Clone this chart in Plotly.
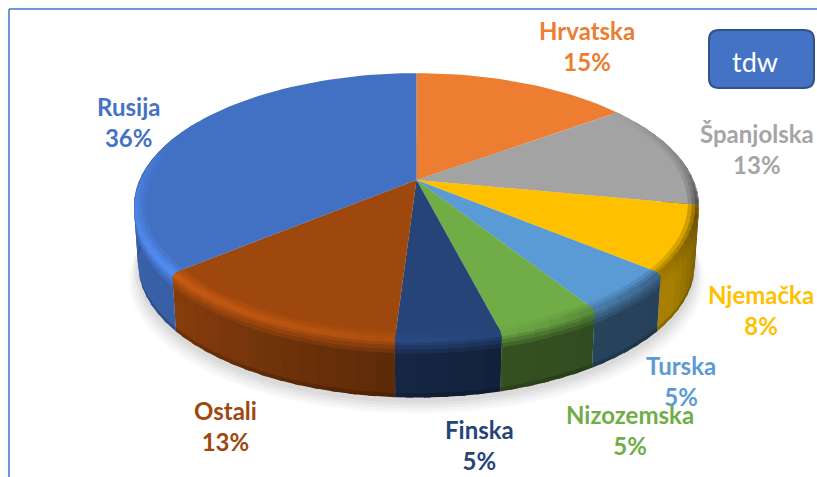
import numpy as np
import plotly.graph_objects as go

categories = ["Hrvatska", "Španjolska", "Njemačka", "Turska", "Nizozemska", "Finska", "Ostali", "Rusija"]
values = [15, 13, 8, 5, 5, 5, 13, 36]
colors = ["#ED7D31", "#A3A3A3", "#FFC000", "#5B9BD5", "#70AD47", "#264478", "#9E480E", "#4270C2"]
label_colors = ["#ED7D31", "#A5A5A5", "#FFC000", "#5B9BD5", "#70AD47", "#264478", "#9E480E", "#4472C4"]
label_x = [587, 757, 761, 681, 630, 479, 225, 128]
label_y = [46, 149, 310, 381, 430, 445, 426, 122]

# perspective disc model
CX, CY, AX, BY, K, DEPTH = 416.5, 180.0, 277.0, 128.0, 0.198, 58.0


def project(theta_deg, r=1.0, d=0.0):
    t = np.radians(theta_deg)
    u, v = r * np.sin(t), -r * np.cos(t)
    w = 1 - K * v
    s = 1 - 0.015 * d / DEPTH
    return CX + AX * u / w * s, CY + BY * v / w + d


def shade(hex_color, f):
    rgb = [int(hex_color[i:i + 2], 16) for i in (1, 3, 5)]
    return "rgb({},{},{})".format(*[int(round(min(255, max(0, c * f)))) for c in rgb])


def wall_factor(t):
    return np.interp(t, [60, 100, 125, 129.6, 130, 150, 165, 183, 230, 270, 300],
                     [.40, .42, .66, .66, .42, .44, .47, .58, .85, .88, .9])


def rim_factor(t):
    return np.interp(t, [54, 85, 105, 125, 150, 170, 190, 230, 270, 292],
                     [1.0, .8, .42, .6, .82, 1.02, 1.12, 1.25, 1.13, 1.0])


fig = go.Figure()


def poly(xs, ys, color, opacity=None):
    fig.add_trace(go.Scatter(
        x=list(xs), y=list(ys), mode="lines", fill="toself", fillcolor=color,
        line=dict(color=color, width=0), hoverinfo="skip",
        showlegend=False, opacity=opacity))


# soft shadow below the disc
ring = np.linspace(0, 360, 181)
for grow, drop, op in [(9, 16, .035), (7, 14, .045), (5, 11, .06), (3, 8, .07), (1, 5, .08)]:
    x, y = project(ring, 1.0, DEPTH)
    poly(CX + (x - CX) * (1 + grow / 280), y + drop, "rgb(120,120,120)", op)

shares = np.array(values, dtype=float) / sum(values) * 360
ends = np.cumsum(shares)
starts = ends - shares


def strip(t0, t1, r0, d0, r1, d1, color):
    x0a, y0a = project(t0, r0, d0)
    x0b, y0b = project(t1, r0, d0)
    x1b, y1b = project(t1, r1, d1)
    x1a, y1a = project(t0, r1, d1)
    poly([x0a, x0b, x1b, x1a, x0a], [y0a, y0b, y1b, y1a, y0a], color)


def cells(lo, hi, step=3.5, overlap=1.2):
    grid = np.linspace(lo, hi, int(np.ceil((hi - lo) / step)) + 1)
    return [(a, min(b + overlap, hi)) for a, b in zip(grid[:-1], grid[1:])]


# side wall
for s, e, c in zip(starts, ends, colors):
    lo, hi = max(s, 60), min(e, 300)
    if hi <= lo:
        continue
    for a, b in cells(lo, hi):
        m = np.clip((a + b) / 2, s + .01, e - .01)
        strip(a, b, 1, 0, 1, 55, shade(c, wall_factor(m)))
    for a, b in cells(lo, hi):
        m = np.clip((a + b) / 2, s + .01, e - .01)
        strip(a, b, 1, 54, 1, DEPTH, shade(c, wall_factor(m) * .82))

# top face
for s, e, c in zip(starts, ends, colors):
    arc = np.linspace(s, e, int(np.ceil((e - s) / 2)) + 1)
    x, y = project(arc)
    poly(np.r_[CX, x, CX], np.r_[CY, y, CY], c)

# bevelled edge, painted outward-in so that each band hides the seam below it
for s, e, c in zip(starts, ends, colors):
    # the parts that drop down the wall only show on the front of the disc
    lo, hi = max(s, 98), min(e, 272)
    if hi > lo:
        for d0, d1, mix in [(9, 14, .25), (5, 10, .5), (2, 6, .75)]:
            for a, b in cells(lo, hi):
                m = (a + b) / 2
                w = wall_factor(np.clip(m, s + .01, e - .01))
                strip(a, b, 1.0, d0, 1.0, d1, shade(c, mix * rim_factor(m) + (1 - mix) * w))
    # the parts that stay on the top face run further round the edge
    lo, hi = max(s, 54), min(e, 292)
    if hi > lo:
        for a, b in cells(lo, hi):
            m = (a + b) / 2
            drop = 3 * np.clip((m - 85) / 15, 0, 1) * np.clip((285 - m) / 15, 0, 1)
            strip(a, b, .985, 0, 1.0, drop, shade(c, rim_factor(m)))
        for a, b in cells(lo, hi):
            strip(a, b, .974, 0, .987, 0, shade(c, (1 + 2 * rim_factor((a + b) / 2)) / 3))
        for a, b in cells(lo, hi):
            strip(a, b, .962, 0, .975, 0, shade(c, (2 + rim_factor((a + b) / 2)) / 3))

annotations = [
    dict(x=x, y=y, xref="x", yref="y", showarrow=False, align="center",
         text=f"<b>{n}<br>{round(v / sum(values) * 100)}%</b>",
         font=dict(family="Lato", size=24, color=c))
    for n, v, x, y, c in zip(categories, values, label_x, label_y, label_colors)
]
annotations.append(dict(x=755, y=61, xref="x", yref="y", showarrow=False, text="tdw",
                        font=dict(family="Lato", size=27, color="white")))

bx0, bx1, by0, by1, rad = 709, 814, 30, 88, 10
box = (f"M{bx0 + rad},{by0} L{bx1 - rad},{by0} Q{bx1},{by0} {bx1},{by0 + rad} "
       f"L{bx1},{by1 - rad} Q{bx1},{by1} {bx1 - rad},{by1} L{bx0 + rad},{by1} "
       f"Q{bx0},{by1} {bx0},{by1 - rad} L{bx0},{by0 + rad} Q{bx0},{by0} {bx0 + rad},{by0} Z")
shapes = [
    dict(type="path", path=box, xref="x", yref="y", fillcolor="#4472C4",
         line=dict(color="#2F528F", width=2)),
    dict(type="line", xref="x", yref="y", x0=9, x1=817, y0=9, y1=9, line=dict(color="#4472C4", width=1.5)),
    dict(type="line", xref="x", yref="y", x0=9, x1=9, y0=9, y1=477, line=dict(color="#4472C4", width=1.5)),
]

fig.update_layout(
    width=817, height=477, margin=dict(l=0, r=0, t=0, b=0),
    paper_bgcolor="white", plot_bgcolor="white", showlegend=False,
    xaxis=dict(range=[0, 817], visible=False, fixedrange=True),
    yaxis=dict(range=[477, 0], visible=False, fixedrange=True),
    annotations=annotations, shapes=shapes,
)
fig.write_html("out.html", config=dict(displayModeBar=False),
               post_script="document.body.style.margin='0';document.documentElement.style.overflow='hidden';")
